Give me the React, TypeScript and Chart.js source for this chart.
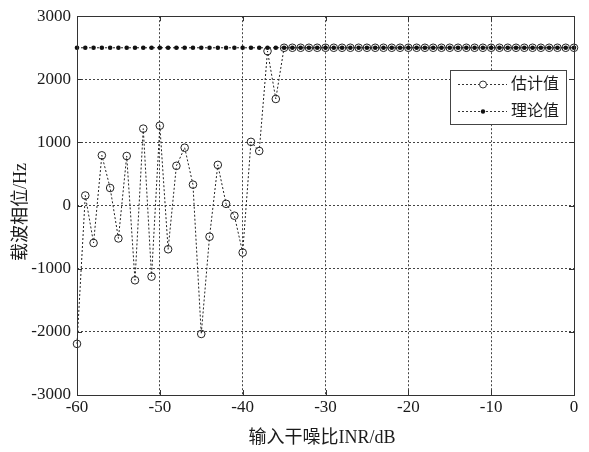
import React, { useEffect, useRef } from "react";
import { Chart, registerables } from "chart.js";

Chart.register(...registerables);

const inrDb: number[] = [
  -60, -59, -58, -57, -56, -55, -54, -53, -52, -51, -50, -49, -48, -47, -46, -45, -44, -43, -42, -41, -40,
  -39, -38, -37, -36, -35, -34, -33, -32, -31, -30, -29, -28, -27, -26, -25, -24, -23, -22, -21, -20,
  -19, -18, -17, -16, -15, -14, -13, -12, -11, -10, -9, -8, -7, -6, -5, -4, -3, -2, -1, 0,
];

const estimated: number[] = [
  -2190, 160, -592, 796, 279, -520, 786, -1183, 1219, -1125, 1266, -692, 630, 917, 332, -2033, -493, 645, 28, -160, -744,
  1010, 865, 2447, 1689, 2500, 2500, 2500, 2500, 2500, 2500, 2500, 2500, 2500, 2500, 2500, 2500, 2500, 2500, 2500, 2500,
  2500, 2500, 2500, 2500, 2500, 2500, 2500, 2500, 2500, 2500, 2500, 2500, 2500, 2500, 2500, 2500, 2500, 2500, 2500, 2500,
];

const theoretical: number[] = inrDb.map(() => 2500);

const legendLabels: string[] = ["估计值", "理论值"];
const xTitle = "输入干噪比INR/dB";
const yTitle = "载波相位/Hz";

const FONT = '"Liberation Serif", "Noto Sans CJK SC", serif';
const INK = "#1a1a1a";

const framePlugin = {
  id: "matlabFrame",
  afterDraw(chart: any) {
    const { ctx, chartArea: a, scales } = chart;
    ctx.save();
    ctx.setLineDash([]);
    ctx.strokeStyle = "#333";
    ctx.lineWidth = 1;
    // inward ticks
    ctx.beginPath();
    const xs = scales.x;
    xs.ticks.forEach((t: any) => {
      const px = Math.round(xs.getPixelForValue(t.value)) + 0.5;
      ctx.moveTo(px, a.bottom);
      ctx.lineTo(px, a.bottom - 5);
      ctx.moveTo(px, a.top);
      ctx.lineTo(px, a.top + 5);
    });
    const ys = scales.y;
    ys.ticks.forEach((t: any) => {
      const py = Math.round(ys.getPixelForValue(t.value)) + 0.5;
      ctx.moveTo(a.left, py);
      ctx.lineTo(a.left + 5, py);
      ctx.moveTo(a.right, py);
      ctx.lineTo(a.right - 5, py);
    });
    ctx.stroke();
    // frame
    ctx.strokeRect(Math.round(a.left) + 0.5, Math.round(a.top) + 0.5, Math.round(a.right - a.left), Math.round(a.bottom - a.top));

    // axis titles
    ctx.fillStyle = INK;
    ctx.font = `18px ${FONT}`;
    ctx.textBaseline = "middle";
    ctx.textAlign = "center";
    ctx.fillText(xTitle, 322, 438);
    ctx.save();
    ctx.translate(21, 212);
    ctx.rotate(-Math.PI / 2);
    ctx.fillText(yTitle, 0, 0);
    ctx.restore();

    // legend
    const bx = 450.5, by = 70.5, bw = 116, bh = 54;
    ctx.fillStyle = "#fff";
    ctx.fillRect(bx, by, bw, bh);
    ctx.strokeStyle = "#444";
    ctx.strokeRect(bx, by, bw, bh);
    const rows = [84, 111];
    rows.forEach((ry, i) => {
      ctx.save();
      ctx.strokeStyle = "#333";
      ctx.setLineDash([2, 2]);
      ctx.beginPath();
      ctx.moveTo(458, ry + 0.5);
      ctx.lineTo(507, ry + 0.5);
      ctx.stroke();
      ctx.setLineDash([]);
      ctx.beginPath();
      if (i === 0) {
        ctx.fillStyle = "#fff";
        ctx.arc(483, ry + 0.5, 3.5, 0, Math.PI * 2);
        ctx.fill();
        ctx.stroke();
      } else {
        ctx.fillStyle = "#111";
        ctx.arc(483, ry + 0.5, 2.2, 0, Math.PI * 2);
        ctx.fill();
      }
      ctx.restore();
      ctx.fillStyle = INK;
      ctx.font = `16px ${FONT}`;
      ctx.textBaseline = "middle";
      ctx.textAlign = "left";
      ctx.fillText(legendLabels[i], 511, ry + 1);
    });
    ctx.restore();
  },
};

export default function App() {
  const ref = useRef<HTMLCanvasElement | null>(null);

  useEffect(() => {
    document.body.style.margin = "0";
    const canvas = ref.current;
    if (!canvas) return;
    const chart = new Chart(canvas, {
      type: "line",
      data: {
        datasets: [
          {
            label: legendLabels[1],
            data: inrDb.map((x, i) => ({ x, y: theoretical[i] })),
            borderColor: "#222",
            borderWidth: 1,
            borderDash: [2, 2],
            pointStyle: "circle",
            pointRadius: 2.3,
            pointBackgroundColor: "#111",
            pointBorderColor: "#111",
            pointBorderWidth: 0,
            fill: false,
            tension: 0,
            clip: false,
          },
          {
            label: legendLabels[0],
            data: inrDb.map((x, i) => ({ x, y: estimated[i] })),
            borderColor: "#222",
            borderWidth: 1,
            borderDash: [2, 2],
            pointStyle: "circle",
            pointRadius: 3.8,
            pointBackgroundColor: "rgba(255,255,255,0)",
            pointBorderColor: "#222",
            pointBorderWidth: 1,
            fill: false,
            tension: 0,
            clip: false,
          },
        ],
      },
      options: {
        animation: false,
        responsive: false,
        maintainAspectRatio: false,
        layout: { padding: { top: 12, right: 15, left: 0, bottom: 0 } },
        plugins: {
          legend: { display: false },
          tooltip: { enabled: false },
        },
        scales: {
          x: {
            type: "linear",
            min: -60,
            max: 0,
            afterFit: (s: any) => {
              s.height = 57;
            },
            ticks: {
              stepSize: 10,
              color: INK,
              font: { family: FONT, size: 17 },
              padding: 2,
              maxRotation: 0,
              callback: (v: any) => String(v),
            },
            grid: { color: "#444", lineWidth: 1, drawTicks: false },
            border: { display: false, dash: [2, 2] },
          },
          y: {
            type: "linear",
            min: -3000,
            max: 3000,
            afterFit: (s: any) => {
              s.width = 77;
            },
            ticks: {
              stepSize: 1000,
              color: INK,
              font: { family: FONT, size: 17 },
              padding: 6,
              callback: (v: any) => String(v),
            },
            grid: { color: "#444", lineWidth: 1, drawTicks: false },
            border: { display: false, dash: [2, 2] },
          },
        },
      },
      plugins: [framePlugin],
    });
    return () => chart.destroy();
  }, []);

  return (
    <div style={{ position: "relative", width: 589, height: 452, background: "#fff" }}>
      <canvas ref={ref} width={589} height={452} style={{ display: "block" }} />
    </div>
  );
}
